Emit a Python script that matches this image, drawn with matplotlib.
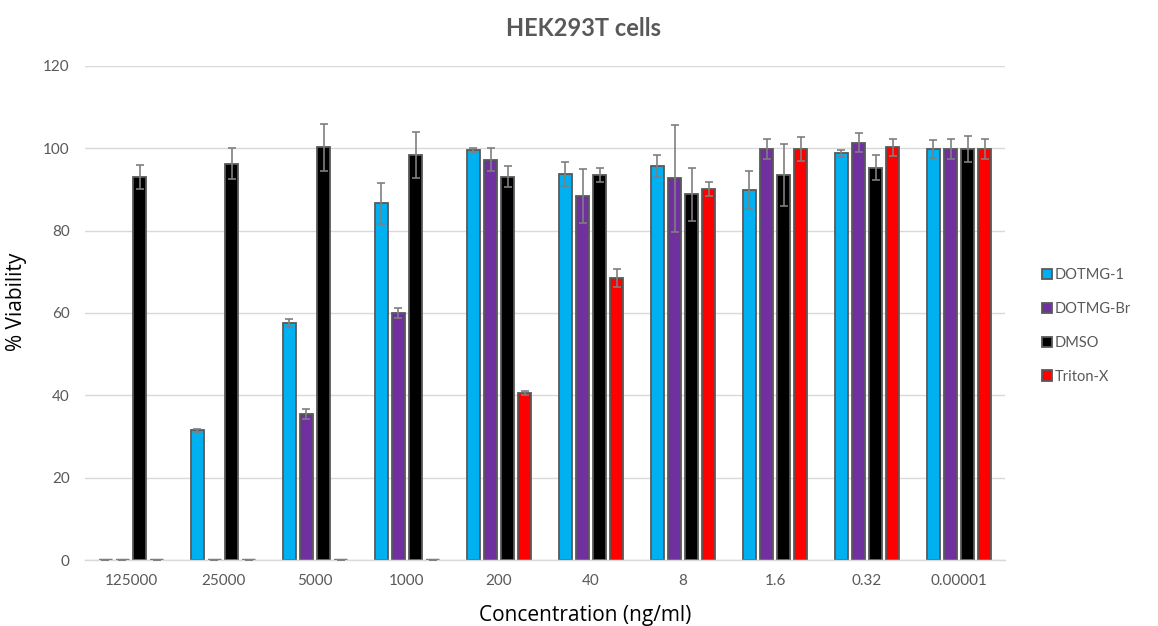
import matplotlib
matplotlib.use('Agg')
import matplotlib.pyplot as plt
import numpy as np

# Concentrations (ng/ml) on the x axis
concentrations = ['125000', '25000', '5000', '1000', '200', '40', '8',
                  '1.6', '0.32', '0.00001']

# Mean % viability per treatment
dotmg1 = [0, 31.5, 57.5, 86.6, 99.6, 93.8, 95.7, 89.9, 98.8, 99.8]
dotmg_br = [0, 0, 35.5, 60.0, 97.2, 88.4, 92.7, 99.8, 101.4, 99.8]
dmso = [93.1, 96.3, 100.2, 98.4, 93.1, 93.5, 88.8, 93.5, 95.3, 99.8]
triton = [0, 0, 0, 0, 40.6, 68.5, 90.1, 99.8, 100.2, 99.8]

# Standard deviations
dotmg1_err = [0, 0.3, 1.0, 5.0, 0.5, 2.9, 2.7, 4.6, 0.8, 2.1]
dotmg_br_err = [0, 0, 1.2, 1.3, 2.8, 6.6, 13.0, 2.5, 2.2, 2.4]
dmso_err = [2.9, 3.7, 5.6, 5.5, 2.6, 1.8, 6.5, 7.5, 3.1, 3.1]
triton_err = [0, 0, 0, 0, 0.5, 2.3, 1.6, 2.9, 2.0, 2.5]

labels = ['DOTMG-1', 'DOTMG-Br', 'DMSO', 'Triton-X']
colors = ['#00B0F0', '#7030A0', '#000000', '#FF0000']

series = [dotmg1, dotmg_br, dmso, triton]
errors = [dotmg1_err, dotmg_br_err, dmso_err, triton_err]

fig = plt.figure(figsize=(11.58, 6.26), dpi=100)
ax = fig.add_axes([0.0734, 0.1054, 0.7945, 0.7892])

x = np.arange(len(concentrations))
pitch = 0.185
bar_width = 0.15

for i, (vals, errs) in enumerate(zip(series, errors)):
    pos = x + (i - 1.5) * pitch
    ax.bar(pos, vals, bar_width, color=colors[i], edgecolor='#595959',
           linewidth=1.3, zorder=2, label=labels[i],
           yerr=errs, capsize=3,
           error_kw=dict(ecolor='#7f7f7f', elinewidth=1.2, capthick=1.2,
                         zorder=3))
    # zero readings show up as a flat grey dash on the baseline
    zero = [p for p, v in zip(pos, vals) if v == 0]
    ax.hlines([0] * len(zero), [p - bar_width / 2 for p in zero],
              [p + bar_width / 2 for p in zero], color='#7f7f7f',
              linewidth=2.5, zorder=3)

# Grid and frame
ax.set_ylim(0, 120)
ax.set_xlim(-0.5, len(concentrations) - 0.5)
ax.set_yticks(range(0, 121, 20))
ax.grid(which='major', axis='y', color='#d9d9d9', linewidth=1, zorder=0)
for side in ['top', 'right', 'left']:
    ax.spines[side].set_visible(False)
ax.spines['bottom'].set_color('#d9d9d9')
ax.spines['bottom'].set_linewidth(1)

ax.set_xticks(x)
ax.set_xticklabels(concentrations)
ax.tick_params(axis='x', length=0, labelsize=11, labelcolor='#595959', pad=10)
ax.tick_params(axis='y', length=0, labelsize=11, labelcolor='#595959', pad=11)
for t in ax.get_xticklabels() + ax.get_yticklabels():
    t.set_family('Lato')

ax.set_ylabel('% Viability', fontsize=15, family='Open Sans')
ax.set_xlabel('Concentration (ng/ml)', fontsize=15, family='Open Sans')
ax.xaxis.set_label_coords(0.5435, -0.092)
ax.yaxis.set_label_coords(-0.063, 0.522)
fig.text(0.5035, 0.955, 'HEK293T cells', ha='center', va='center',
         fontsize=17, fontweight='bold', color='#595959', family='Lato')

leg = ax.legend(loc='center left', bbox_to_anchor=(1.026, 0.474),
                frameon=False, fontsize=10.5, handlelength=0.7,
                handleheight=0.7, handletextpad=0.15, labelspacing=1.36)
for t in leg.get_texts():
    t.set_color('#595959')
    t.set_family('Lato')

plt.savefig('out.png', dpi=100)
